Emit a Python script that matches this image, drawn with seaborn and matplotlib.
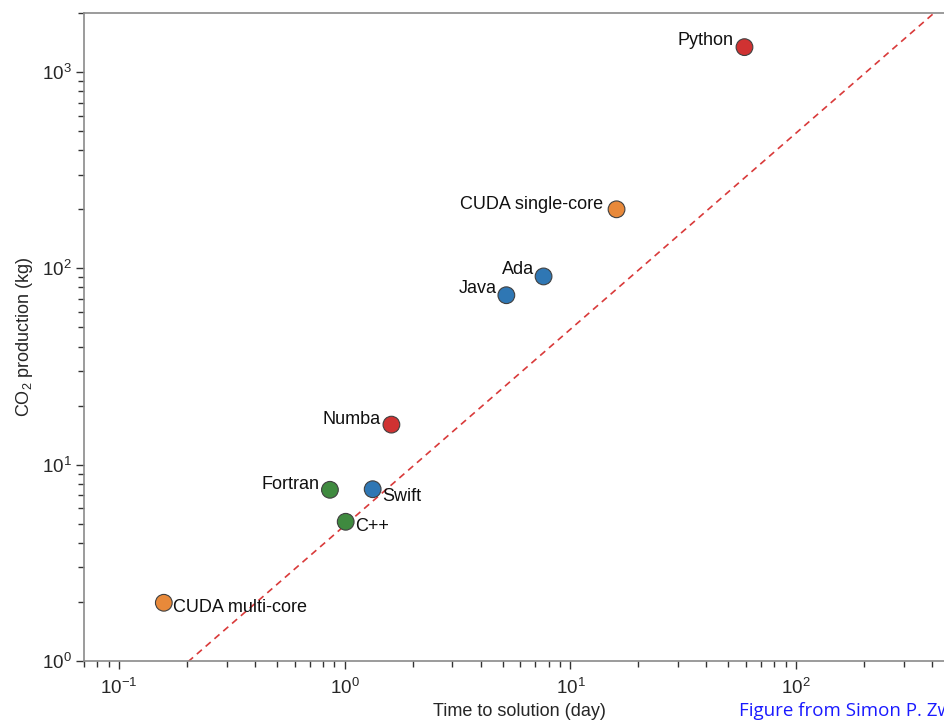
import numpy as np
import pandas as pd
import seaborn as sns
import matplotlib.pyplot as plt

# values
languages = ['Python', 'CUDA single-core', 'Ada', 'Java', 'Numba',
             'Fortran', 'Swift', 'C++', 'CUDA multi-core']
time_days = [59.0, 16.0, 7.6, 5.2, 1.61, 0.86, 1.33, 1.01, 0.158]
co2_kg = [1340, 200, 91, 73, 16.0, 7.45, 7.5, 5.12, 1.98]
groups = ['python', 'cuda', 'managed', 'managed', 'python',
          'compiled', 'managed', 'compiled', 'cuda']

# label offsets (pixels) and alignment per point
label_dx = [-11, -13, -9, -10, -11, -10, 10, 9, 9]
label_dy = [7, 5, 7, 7, 5, 5, -7, -5, -5]
label_ha = ['right', 'right', 'right', 'right', 'right', 'right', 'left', 'left', 'left']

palette = {'python': '#d03232', 'cuda': '#e8893a',
           'managed': '#2f77b4', 'compiled': '#3f8a3f'}

df = pd.DataFrame({'lang': languages, 'time': time_days, 'co2': co2_kg, 'group': groups})

sns.set_style('ticks')
plt.rcParams['font.family'] = ['Liberation Sans', 'DejaVu Sans']
plt.rcParams['mathtext.fontset'] = 'custom'
plt.rcParams['mathtext.rm'] = 'Liberation Sans'
plt.rcParams['mathtext.it'] = 'Liberation Sans:italic'

fig = plt.figure(figsize=(9.44, 7.22), dpi=100)
ax = fig.add_axes([84 / 944, 1 - 661 / 722, 870 / 944, 648 / 722])

# reference line y ~ 4.9 x
line_x = np.array([0.07, 500])
ax.plot(line_x, 4.9 * line_x, color='#d93a3a', lw=1.2, ls=(0, (4, 3)), zorder=1)

sns.scatterplot(data=df, x='time', y='co2', hue='group', palette=palette,
                s=145, edgecolor='#404040', linewidth=0.8, legend=False,
                ax=ax, zorder=3)

for i, name in enumerate(languages):
    ax.annotate(name, (time_days[i], co2_kg[i]), xytext=(label_dx[i], label_dy[i]),
                textcoords='offset pixels', ha=label_ha[i], va='center',
                fontsize=13, color='#111111')

ax.set_xscale('log')
ax.set_yscale('log')
ax.set_xlim(0.07, 500)
ax.set_ylim(1, 2000)

ax.set_xlabel('Time to solution (day)', fontsize=13, labelpad=4)
ax.set_ylabel('CO$_2$ production (kg)', fontsize=13, labelpad=5)

for side in ['left', 'bottom', 'top']:
    ax.spines[side].set_color('#8a8a8a')
    ax.spines[side].set_linewidth(1.2)
ax.spines['right'].set_visible(False)

ax.tick_params(which='major', length=6, width=1, color='#333333',
               labelsize=13.5, pad=3)
ax.tick_params(which='minor', length=4, width=1, color='#333333')
ax.tick_params(axis='x', which='major', pad=6)

fig.text(739 / 944, 1 - 711 / 722, 'Figure from Simon P. Zwart', color='#1a1aff',
         fontsize=13.5, family=['Open Sans', 'DejaVu Sans'], va='center', ha='left')

fig.savefig('out.png', dpi=100)
